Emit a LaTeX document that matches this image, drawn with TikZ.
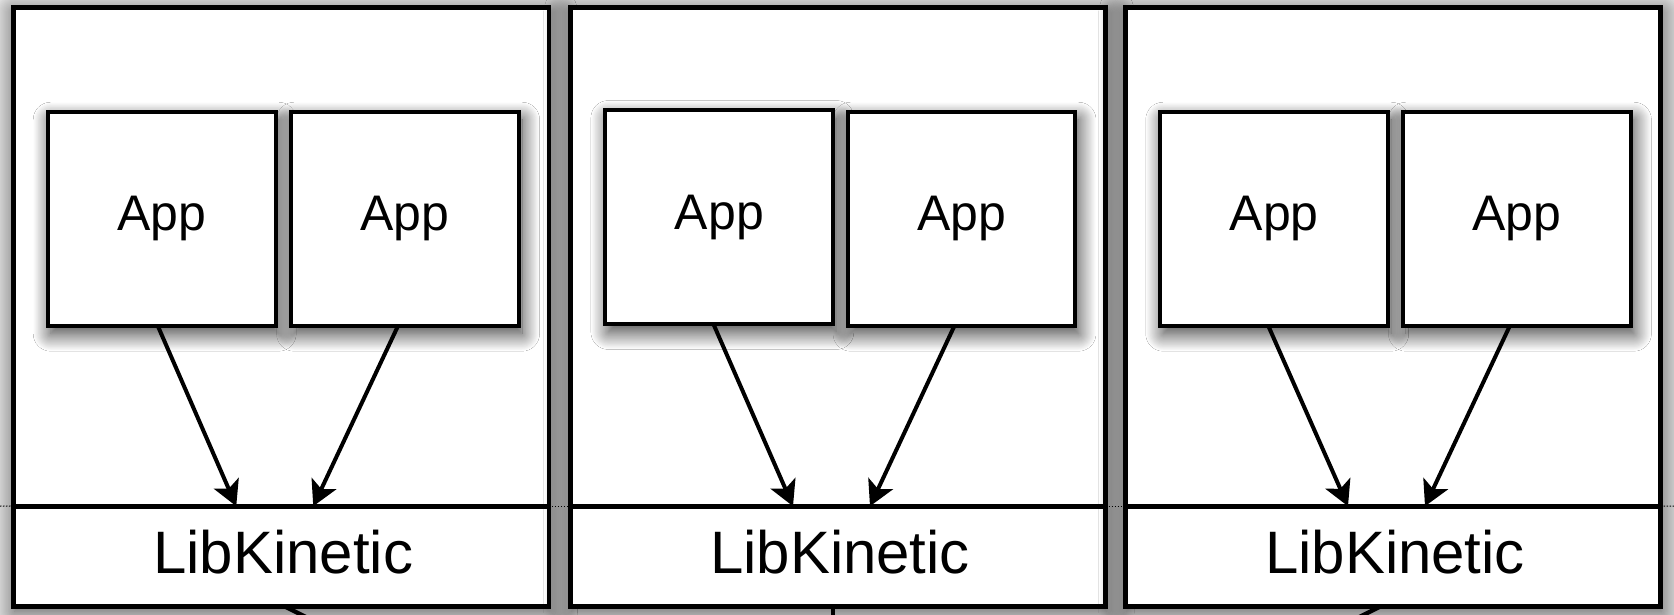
\documentclass[tikz,border=0pt]{standalone}
\usepackage{fontspec}
\setmainfont{Liberation Sans}
\usetikzlibrary{arrows.meta,shadows.blur,calc}
\begin{document}
\begin{tikzpicture}[x=0.02cm,y=-0.02cm,
  outerbox/.style={draw, fill=white, line width=0.095cm, minimum width=10.71cm,
    minimum height=11.98cm, inner sep=0pt, outer sep=0pt,
    blur shadow={shadow xshift=0.02cm, shadow yshift=-0.1cm, shadow blur radius=0.55cm, shadow opacity=80, shadow blur steps=25}},
  libbox/.style={draw, line width=0.095cm, minimum width=10.71cm, minimum height=2cm,
    inner sep=0pt, outer sep=0pt, anchor=south},
  libtext/.style={anchor=base, font=\fontsize{34.1pt}{40pt}\selectfont, inner sep=0pt},
  appbox/.style={draw, fill=white, line width=0.08cm, minimum width=4.56cm, minimum height=4.28cm,
    inner sep=0pt, outer sep=0pt, font=\fontsize{28.45pt}{34pt}\selectfont,
    blur shadow={shadow xshift=0.06cm, shadow yshift=-0.16cm, shadow blur radius=0.35cm, shadow opacity=80, shadow blur steps=25}},
  arr/.style={line width=0.08cm, -{Stealth[length=0.5cm, width=0.54cm, inset=0.12cm]}},
  link/.style={line width=0.085cm},
  dotline/.style={line width=0.02cm, dash pattern=on 0.03cm off 0.03cm}
]
\useasboundingbox (0,0) rectangle (1674,615);
\clip (0,0) rectangle (1674,615);
\fill[white] (0,0) rectangle (1674,615);

% outer boxes
\node[outerbox] (box1) at (281.25,306.75) {};
\node[outerbox] (box2) at (838,306.75) {};
\node[outerbox] (box3) at (1393,306.75) {};

% LibKinetic parts
\node[libbox] (lib1) at (box1.south) {};
\node[libbox] (lib2) at (box2.south) {};
\node[libbox] (lib3) at (box3.south) {};
\node[libtext] (t1) at ($(lib1.center)+(2,17)$) {LibKinetic};
\node[libtext] (t2) at ($(lib2.center)+(2,17)$) {LibKinetic};
\node[libtext] (t3) at ($(lib3.center)+(2,17)$) {LibKinetic};

% apps
\node[appbox] (a11) at (161.7,218.7) {App};
\node[appbox] (a12) at (405.1,218.7) {App};
\node[appbox] (a21) at (719.4,217) {App};
\node[appbox] (a22) at (961.5,218.7) {App};
\node[appbox] (a31) at (1274.2,218.7) {App};
\node[appbox] (a32) at (1516.9,218.7) {App};

% arrows
\draw[arr] ($(a11.south)+(-4,0)$) -- ($(lib1.north)+(-45,0)$);
\draw[arr] ($(a12.south)+(-7,0)$) -- ($(lib1.north)+(32,0)$);
\draw[arr] ($(a21.south)+(-6,0)$) -- ($(lib2.north)+(-45,0)$);
\draw[arr] ($(a22.south)+(-7,0)$) -- ($(lib2.north)+(32,0)$);
\draw[arr] ($(a31.south)+(-6,0)$) -- ($(lib3.north)+(-45,0)$);
\draw[arr] ($(a32.south)+(-7,0)$) -- ($(lib3.north)+(32,0)$);

% dotted guide line
\coordinate (ledge) at (0,506);
\coordinate (redge) at (1674,506);
\draw[dotline] (ledge) -- (lib1.north west);
\draw[dotline] (lib1.north east) -- (lib2.north west);
\draw[dotline] (lib2.north east) -- (lib3.north west);
\draw[dotline] (lib3.north east) -- (redge);

% links leaving the picture below
\coordinate (hub) at (833,880);
\draw[link] ($(box1.south)+(3,0)$) -- (hub);
\draw[link] ($(box2.south)+(-5,0)$) -- (hub);
\draw[link] ($(box3.south)+(-12,0)$) -- (hub);
\end{tikzpicture}
\end{document}
